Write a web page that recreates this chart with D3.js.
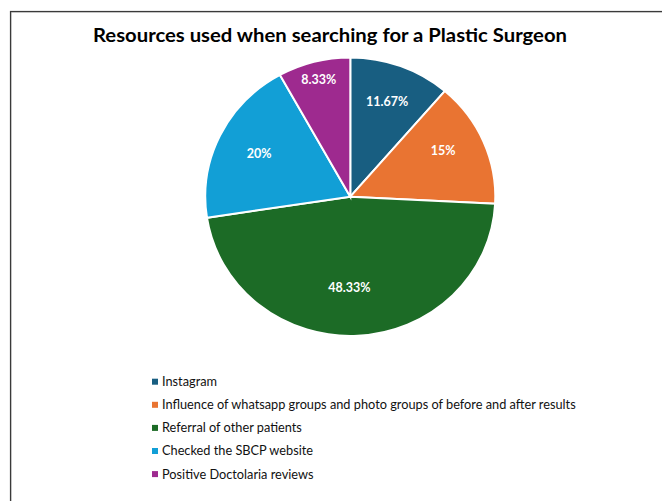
<!DOCTYPE html>
<html><head><meta charset="utf-8">
<script src="https://cdn.jsdelivr.net/npm/d3@7"></script>
<style>html,body{margin:0;padding:0;background:#fff;}svg{display:block;}</style>
</head><body>
<svg id="c" width="662" height="501"></svg>
<script>
const title = "Resources used when searching for a Plastic Surgeon";
const categories = [
  "Instagram",
  "Influence of whatsapp groups and photo groups of before and after results",
  "Referral of other patients",
  "Checked the SBCP website",
  "Positive Doctolaria reviews"
];
const values = [11.67, 15, 48.33, 20, 8.33];
const labels = ["11.67%", "15%", "48.33%", "20%", "8.33%"];
const colors = ["#185e81", "#e97432", "#1c6b26", "#129fd6", "#9e2a8f"];

const svg = d3.select("#c");
svg.append("rect").attr("x", 11).attr("y", 12).attr("width", 700).attr("height", 600)
  .attr("fill", "none").attr("stroke", "#aaa").attr("stroke-width", 1);
svg.append("rect").attr("x", 10.5).attr("y", 11.5).attr("width", 700).attr("height", 600)
  .attr("fill", "none").attr("stroke", "#3a3a3a").attr("stroke-width", 1.2);

svg.append("text").attr("x", 330).attr("y", 42).attr("text-anchor", "middle")
  .attr("font-family", "Lato, 'Open Sans', sans-serif").attr("font-weight", "bold")
  .attr("font-size", 19.5).attr("fill", "#000")
  .attr("textLength", 474).attr("lengthAdjust", "spacingAndGlyphs")
  .text(title);

const cx = 350.3, cy = 196.7, r = 139.2, sx = 145 / 139.2;
const pie = d3.pie().sort(null).value(d => d);
const arcs = pie(values);
const arc = d3.arc().innerRadius(0).outerRadius(r);
const g = svg.append("g").attr("transform", `translate(${cx},${cy})`);
const gp = g.append("g").attr("transform", `scale(${sx},1)`);
gp.selectAll("path").data(arcs).join("path")
  .attr("d", arc).attr("fill", (d, i) => colors[i])
  .attr("stroke", "#fff").attr("stroke-width", 2).attr("vector-effect", "non-scaling-stroke");

// label radial factor and angular nudge (radians) for Excel-like placement
const labelFactor = [0.73, 0.72, 0.65, 0.70, 0.87];
const labelNudge = [0, -0.07, 0.06, 0, 0];
g.selectAll("text").data(arcs).join("text")
  .attr("x", (d, i) => Math.sin((d.startAngle + d.endAngle) / 2 + labelNudge[i]) * r * labelFactor[i] * sx)
  .attr("y", (d, i) => -Math.cos((d.startAngle + d.endAngle) / 2 + labelNudge[i]) * r * labelFactor[i])
  .attr("dy", "0.35em").attr("text-anchor", "middle")
  .attr("font-family", "Lato, 'Open Sans', sans-serif").attr("font-weight", "bold")
  .attr("font-size", 12.5).attr("fill", "#fff")
  .text((d, i) => labels[i]);

const lg = svg.append("g");
const rows = lg.selectAll("g").data(categories).join("g")
  .attr("transform", (d, i) => `translate(152,${381.7 + i * 23.1})`);
rows.append("rect").attr("x", 0).attr("y", -3).attr("width", 6).attr("height", 6)
  .attr("fill", (d, i) => colors[i]);
rows.append("text").attr("x", 10).attr("y", 0).attr("dy", "0.35em")
  .attr("font-family", "Lato, 'Open Sans', sans-serif").attr("font-size", 12.75)
  .attr("fill", "#111").text(d => d);
</script>
</body></html>
